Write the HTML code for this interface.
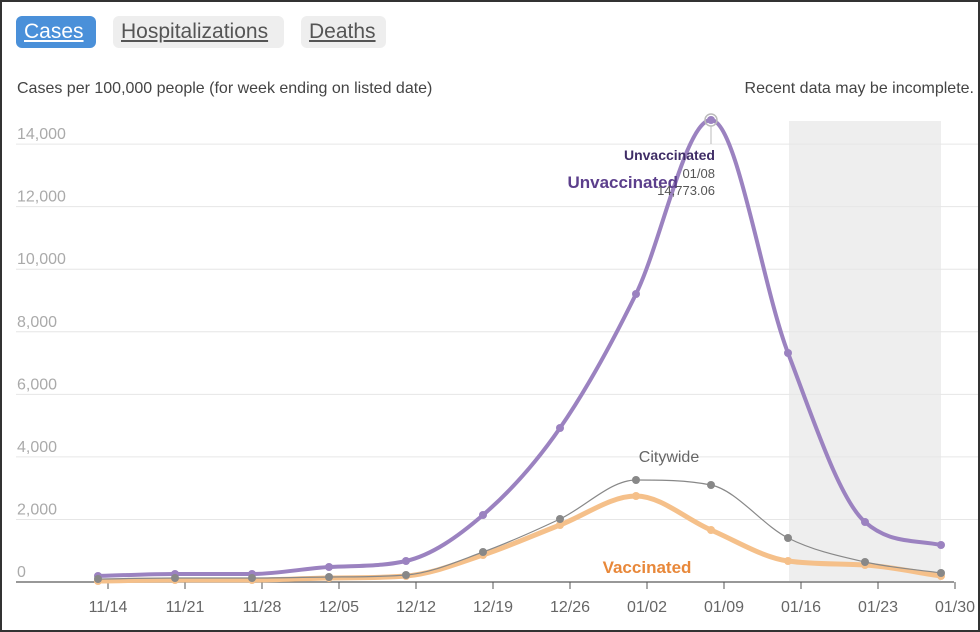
<!DOCTYPE html>
<html><head><meta charset="utf-8"><style>
html,body{margin:0;padding:0;background:#fff}
#w{position:relative;width:976px;height:628px;border:2px solid #333;overflow:hidden;font-family:"Liberation Sans",Arial,sans-serif}
.btn{position:absolute;top:14px;height:32px;line-height:32px;border-radius:6px;font-size:21px;text-decoration:underline;padding:0 8px;color:#555;background:#eee}
</style></head><body><div id="w">
<div class="btn" style="left:14px;background:#4a90d9;color:#fff;width:64px">Cases</div>
<div class="btn" style="left:111px;width:155px">Hospitalizations</div>
<div class="btn" style="left:299px;width:69px">Deaths</div>
<svg id="s" width="976" height="628" style="position:absolute;left:0;top:0" font-family="Liberation Sans, Arial, sans-serif"></svg>
</div>
<script>
const s=document.getElementById('s');let h='';
h+='<text x="15" y="91" font-size="16" fill="#444">Cases per 100,000 people (for week ending on listed date)</text>';
h+='<text x="972" y="91" font-size="16" fill="#444" text-anchor="end">Recent data may be incomplete.</text>';
h+='<rect x="787" y="119" width="152" height="460" fill="#eee"/>';
const Y0=580,k=0.03128;
for(let v=0;v<=14000;v+=2000){const y=Y0-v*k;
 if(v>0)h+='<line x1="14" x2="976" y1="'+y+'" y2="'+y+'" stroke="#e6e6e6"/>';
 h+='<text x="15" y="'+(y-5)+'" font-size="16" fill="#aaa">'+(v?v.toLocaleString('en-US'):'0')+'</text>';}
h+='<line x1="14" x2="952" y1="'+Y0+'" y2="'+Y0+'" stroke="#777" stroke-width="1.5"/>';
const lab=['11/14','11/21','11/28','12/05','12/12','12/19','12/26','01/02','01/09','01/16','01/23','01/30'];
lab.forEach((l,i)=>{const x=106+i*77;h+='<line x1="'+x+'" x2="'+x+'" y1="'+Y0+'" y2="'+(Y0+7)+'" stroke="#555"/>';
 h+='<text x="'+x+'" y="'+(Y0+30)+'" font-size="16" fill="#666" text-anchor="middle">'+l+'</text>';});
const X=[96,173,250,327,404,481,558,634,709,786,863,939];
function path(Y){const n=X.length,d=[],m=[];
 for(let i=0;i<n-1;i++)d.push((Y[i+1]-Y[i])/(X[i+1]-X[i]));
 m[0]=d[0];m[n-1]=d[n-2];
 for(let i=1;i<n-1;i++){m[i]=(d[i-1]*d[i]<=0)?0:(d[i-1]+d[i])/2;}
 for(let i=0;i<n-1;i++){if(d[i]==0){m[i]=m[i+1]=0;continue;}const a=m[i]/d[i],b=m[i+1]/d[i],t=a*a+b*b;if(t>9){const r=3/Math.sqrt(t);m[i]=r*a*d[i];m[i+1]=r*b*d[i];}}
 let p='M'+X[0]+','+Y[0];
 for(let i=0;i<n-1;i++){const dx=(X[i+1]-X[i])/3;p+=' C'+(X[i]+dx)+','+(Y[i]+m[i]*dx)+' '+(X[i+1]-dx)+','+(Y[i+1]-m[i+1]*dx)+' '+X[i+1]+','+Y[i+1];}
 return p;}
function series(Ys,col,w,r){h+='<path d="'+path(Ys)+'" fill="none" stroke="'+col+'" stroke-width="'+w+'"/>';
 Ys.forEach((y,i)=>h+='<circle cx="'+X[i]+'" cy="'+y+'" r="'+r+'" fill="'+col+'"/>');}
series([574,572,572,565,559,513,426,292,118,351,520,543],'#9b82c0',4,4);
h+='<circle cx="709" cy="118" r="6" fill="none" stroke="#bbb" stroke-width="1.5"/>';
series([579,578,578,576,574,553,523,494,528,559,563,574],'#f5c08a',5,4);
series([577,576,576,575,573,550,517,478,483,536,560,571],'#888',1.2,4);
h+='<line x1="709" x2="709" y1="124" y2="142" stroke="#bbb"/>';
h+='<text x="713" y="158" font-size="14" font-weight="bold" fill="#3f2d66" text-anchor="end">Unvaccinated</text>';
h+='<text x="676" y="186" font-size="17" font-weight="bold" fill="#5c3f8c" text-anchor="end">Unvaccinated</text>';
h+='<text x="713" y="176" font-size="13" fill="#555" text-anchor="end">01/08</text>';
h+='<text x="713" y="193" font-size="13" fill="#555" text-anchor="end">14,773.06</text>';
h+='<text x="667" y="460" font-size="16" fill="#666" text-anchor="middle">Citywide</text>';
h+='<text x="645" y="571" font-size="17" font-weight="bold" fill="#e8883a" text-anchor="middle">Vaccinated</text>';
s.innerHTML=h;
</script></body></html>
